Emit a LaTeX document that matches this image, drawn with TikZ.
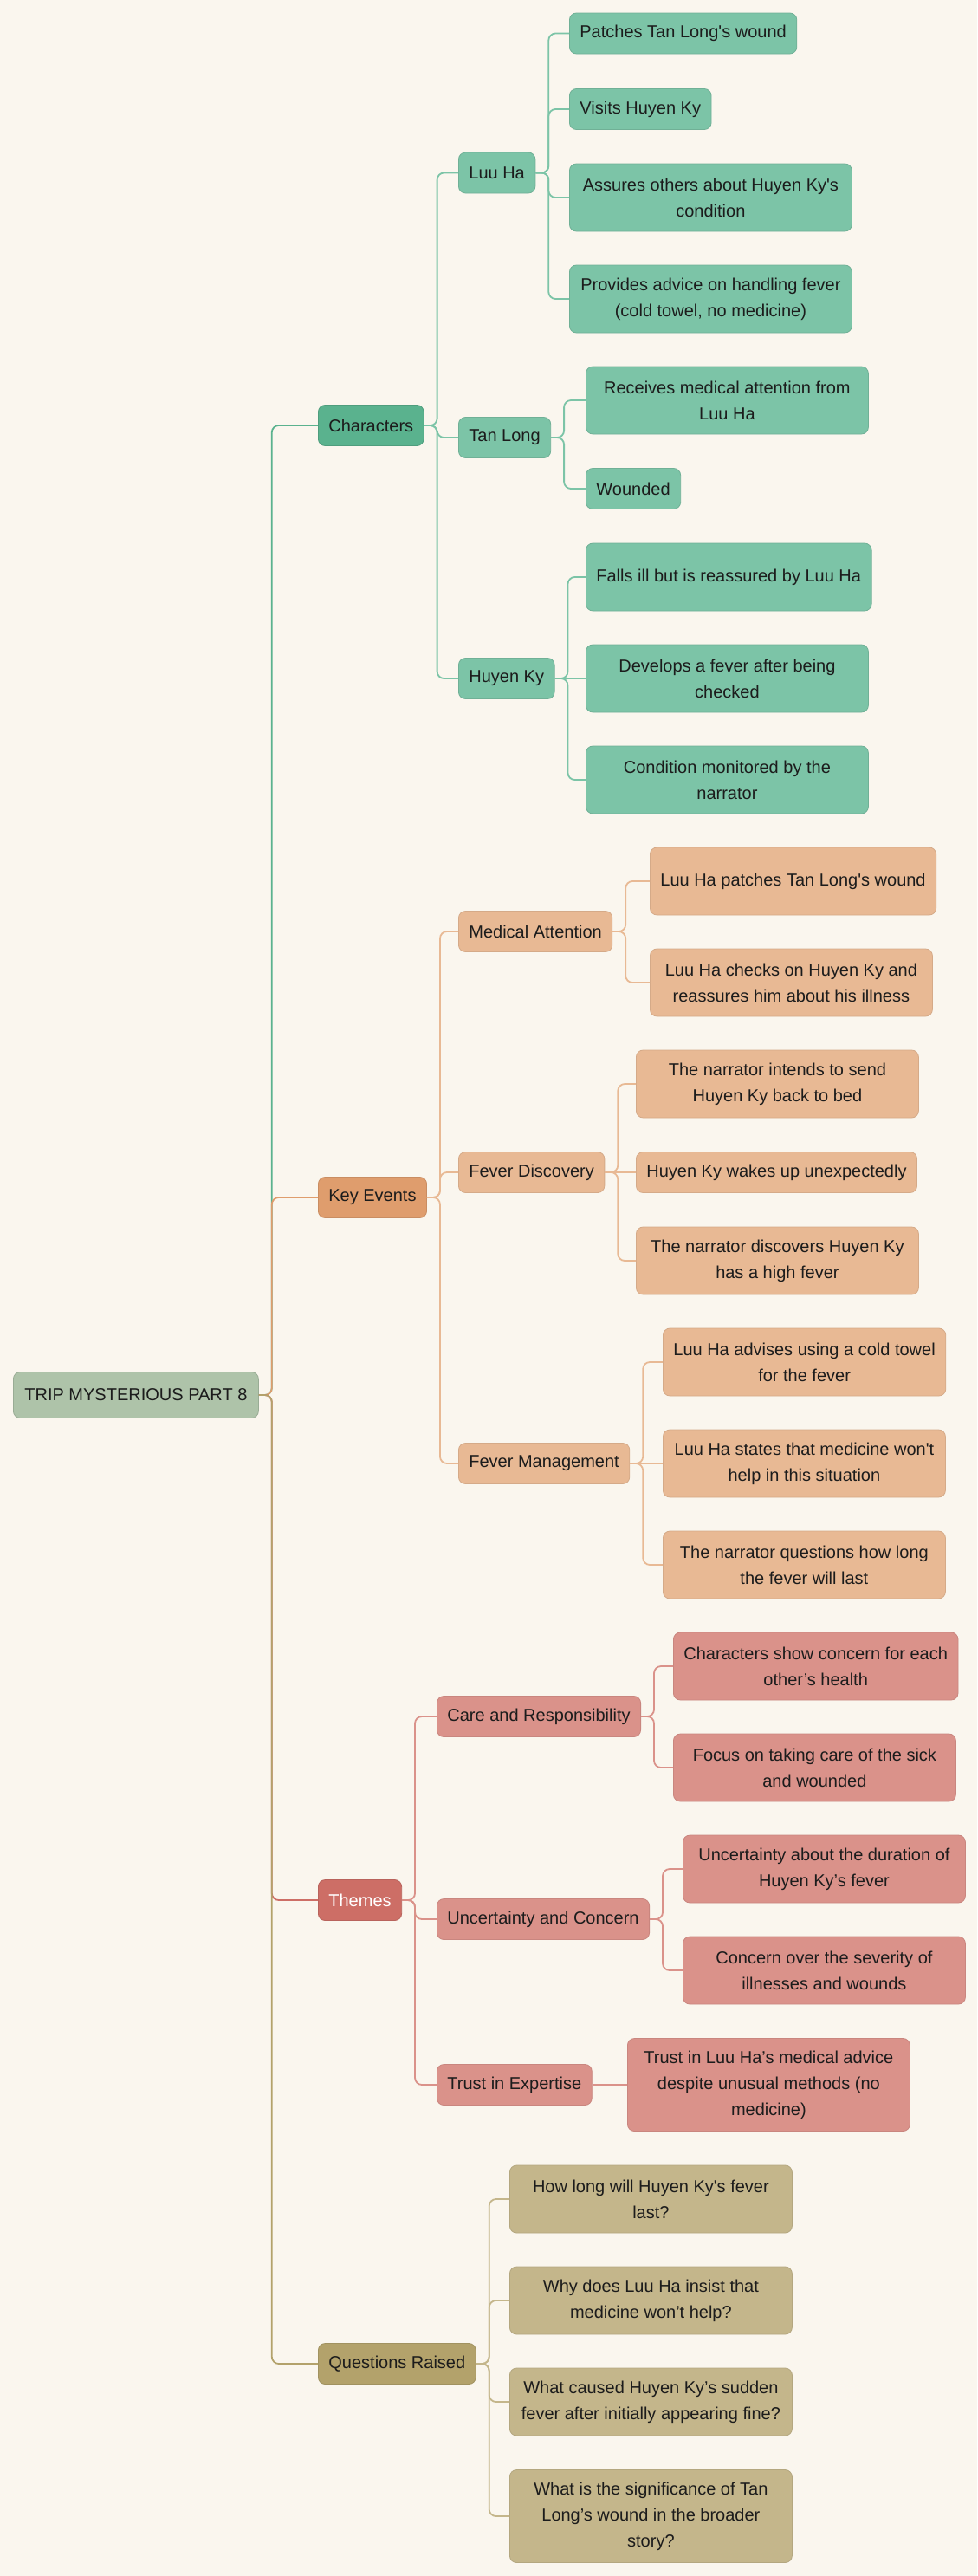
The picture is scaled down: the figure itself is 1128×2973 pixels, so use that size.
\documentclass[tikz,border=0pt]{standalone}
\usepackage{fontspec}
\setmainfont{Liberation Sans}[Ligatures=TeXOff]
\usepackage{xcolor,tikz}

\definecolor{paper}{HTML}{FAF6EE}
\definecolor{ink}{HTML}{1C1C1C}
\definecolor{rootfill}{HTML}{AEC3A9}
\definecolor{greenmain}{HTML}{5AB28E}
\definecolor{greensub}{HTML}{7CC4A7}
\definecolor{orangemain}{HTML}{DF9D6D}
\definecolor{orangesub}{HTML}{E8B994}
\definecolor{redmain}{HTML}{CD6E66}
\definecolor{redsub}{HTML}{DA928A}
\definecolor{goldmain}{HTML}{B3A26B}
\definecolor{goldsub}{HTML}{C4B68B}

\begin{document}
\begin{tikzpicture}[x=0.75pt, y=-0.75pt,
		box/.style={rounded corners=6pt, inner xsep=9pt, inner ysep=3pt, minimum height=35.25pt,
			anchor=west, align=center, text=ink, line width=0.6pt, font=\fontsize{15}{22.5}\selectfont},
		wide/.style={minimum width=244.5pt},
		tall/.style={minimum height=58.5pt},
		taller/.style={minimum height=80.25pt},
		rootbox/.style={box, fill=rootfill, draw=rootfill!88!black, minimum width=212.25pt, minimum height=39.75pt},
		greentop/.style={box, fill=greenmain, draw=greenmain!88!black},
		greenbox/.style={box, fill=greensub, draw=greensub!90!black},
		orangetop/.style={box, fill=orangemain, draw=orangemain!90!black},
		orangebox/.style={box, fill=orangesub, draw=orangesub!92!black},
		redtop/.style={box, fill=redmain, draw=redmain!90!black, text=white},
		redbox/.style={box, fill=redsub, draw=redsub!92!black},
		goldtop/.style={box, fill=goldmain, draw=goldmain!90!black},
		goldbox/.style={box, fill=goldsub, draw=goldsub!92!black},
		link/.style={line width=1.35pt, rounded corners=6pt}]

	\fill[paper] (0, 0) rectangle (1128, 2973);
	\useasboundingbox (0, 0) rectangle (1128, 2973);

	\draw (15, 1610) 	node[rootbox] 	(root) 		{TRIP MYSTERIOUS PART 8};

	\draw (367, 491) 	node[greentop] 	(chars) 	{Characters};
	\draw (529, 199.5) 	node[greenbox] 	(luuha) 	{Luu Ha};
	\draw (529, 505) 	node[greenbox] 	(tanlong) 	{Tan Long};
	\draw (529, 783) 	node[greenbox] 	(huyenky) 	{Huyen Ky};
	\draw (657, 38.5) 	node[greenbox] 	(luuha_a) 	{Patches Tan Long's wound};
	\draw (657, 126) 	node[greenbox] 	(luuha_b) 	{Visits Huyen Ky};
	\draw (657, 228) 	node[greenbox, wide, tall] 	(luuha_c) 	{Assures others about Huyen Ky's\\condition};
	\draw (657, 345) 	node[greenbox, wide, tall] 	(luuha_d) 	{Provides advice on handling fever\\(cold towel, no medicine)};
	\draw (676, 462) 	node[greenbox, wide, tall] 	(tanlong_a) 	{Receives medical attention from\\Luu Ha};
	\draw (676, 564) 	node[greenbox] 	(tanlong_b) 	{Wounded};
	\draw (676, 666) 	node[greenbox, wide, tall] 	(huyenky_a) 	{Falls ill but is reassured by Luu Ha};
	\draw (676, 783) 	node[greenbox, wide, tall] 	(huyenky_b) 	{Develops a fever after being\\checked};
	\draw (676, 900) 	node[greenbox, wide, tall] 	(huyenky_c) 	{Condition monitored by the\\narrator};

	\draw (367, 1382) 	node[orangetop] 	(events) 	{Key Events};
	\draw (529, 1075) 	node[orangebox] 	(medical) 	{Medical Attention};
	\draw (529, 1353) 	node[orangebox] 	(fever) 	{Fever Discovery};
	\draw (529, 1689) 	node[orangebox] 	(manage) 	{Fever Management};
	\draw (750, 1017) 	node[orangebox, wide, tall] 	(medical_a) 	{Luu Ha patches Tan Long's wound};
	\draw (750, 1134) 	node[orangebox, wide, tall] 	(medical_b) 	{Luu Ha checks on Huyen Ky and\\reassures him about his illness};
	\draw (734, 1251) 	node[orangebox, wide, tall] 	(fever_a) 	{The narrator intends to send\\Huyen Ky back to bed};
	\draw (734, 1353) 	node[orangebox] 	(fever_b) 	{Huyen Ky wakes up unexpectedly};
	\draw (734, 1455) 	node[orangebox, wide, tall] 	(fever_c) 	{The narrator discovers Huyen Ky\\has a high fever};
	\draw (765, 1572) 	node[orangebox, wide, tall] 	(manage_a) 	{Luu Ha advises using a cold towel\\for the fever};
	\draw (765, 1689) 	node[orangebox, wide, tall] 	(manage_b) 	{Luu Ha states that medicine won't\\help in this situation};
	\draw (765, 1806) 	node[orangebox, wide, tall] 	(manage_c) 	{The narrator questions how long\\the fever will last};

	\draw (367, 2193) 	node[redtop] 	(themes) 	{Themes};
	\draw (504, 1981) 	node[redbox] 	(care) 		{Care and Responsibility};
	\draw (504, 2215) 	node[redbox] 	(doubt) 	{Uncertainty and Concern};
	\draw (504, 2406) 	node[redbox] 	(trust) 	{Trust in Expertise};
	\draw (777, 1923) 	node[redbox, wide, tall] 	(care_a) 	{Characters show concern for each\\other’s health};
	\draw (777, 2040) 	node[redbox, wide, tall] 	(care_b) 	{Focus on taking care of the sick\\and wounded};
	\draw (788, 2157) 	node[redbox, wide, tall] 	(doubt_a) 	{Uncertainty about the duration of\\Huyen Ky’s fever};
	\draw (788, 2274) 	node[redbox, wide, tall] 	(doubt_b) 	{Concern over the severity of\\illnesses and wounds};
	\draw (724, 2406) 	node[redbox, wide, taller] 	(trust_a) 	{Trust in Luu Ha’s medical advice\\despite unusual methods (no\\medicine)};

	\draw (367, 2728) 	node[goldtop] 	(questions) 	{Questions Raised};
	\draw (588, 2538) 	node[goldbox, wide, tall] 	(questions_a) 	{How long will Huyen Ky's fever\\last?};
	\draw (588, 2655) 	node[goldbox, wide, tall] 	(questions_b) 	{Why does Luu Ha insist that\\medicine won’t help?};
	\draw (588, 2772) 	node[goldbox, wide, tall] 	(questions_c) 	{What caused Huyen Ky’s sudden\\fever after initially appearing fine?};
	\draw (588, 2904) 	node[goldbox, wide, taller] 	(questions_d) 	{What is the significance of Tan\\Long’s wound in the broader\\story?};

	\draw[link, greenmain] (root.east) -- ++(15, 0) |- (chars.west);
	\draw[link, orangemain] (root.east) -- ++(15, 0) |- (events.west);
	\draw[link, redmain] (root.east) -- ++(15, 0) |- (themes.west);
	\draw[link, goldmain] (root.east) -- ++(15, 0) |- (questions.west);

	\draw[link, greensub] (chars.east) -- ++(15, 0) |- (luuha.west);
	\draw[link, greensub] (chars.east) -- ++(15, 0) |- (tanlong.west);
	\draw[link, greensub] (chars.east) -- ++(15, 0) |- (huyenky.west);
	\draw[link, greensub] (luuha.east) -- ++(15, 0) |- (luuha_a.west);
	\draw[link, greensub] (luuha.east) -- ++(15, 0) |- (luuha_b.west);
	\draw[link, greensub] (luuha.east) -- ++(15, 0) |- (luuha_c.west);
	\draw[link, greensub] (luuha.east) -- ++(15, 0) |- (luuha_d.west);
	\draw[link, greensub] (tanlong.east) -- ++(15, 0) |- (tanlong_a.west);
	\draw[link, greensub] (tanlong.east) -- ++(15, 0) |- (tanlong_b.west);
	\draw[link, greensub] (huyenky.east) -- ++(15, 0) |- (huyenky_a.west);
	\draw[link, greensub] (huyenky.east) -- (huyenky_b.west);
	\draw[link, greensub] (huyenky.east) -- ++(15, 0) |- (huyenky_c.west);

	\draw[link, orangesub] (events.east) -- ++(15, 0) |- (medical.west);
	\draw[link, orangesub] (events.east) -- ++(15, 0) |- (fever.west);
	\draw[link, orangesub] (events.east) -- ++(15, 0) |- (manage.west);
	\draw[link, orangesub] (medical.east) -- ++(15, 0) |- (medical_a.west);
	\draw[link, orangesub] (medical.east) -- ++(15, 0) |- (medical_b.west);
	\draw[link, orangesub] (fever.east) -- ++(15, 0) |- (fever_a.west);
	\draw[link, orangesub] (fever.east) -- (fever_b.west);
	\draw[link, orangesub] (fever.east) -- ++(15, 0) |- (fever_c.west);
	\draw[link, orangesub] (manage.east) -- ++(15, 0) |- (manage_a.west);
	\draw[link, orangesub] (manage.east) -- (manage_b.west);
	\draw[link, orangesub] (manage.east) -- ++(15, 0) |- (manage_c.west);

	\draw[link, redsub] (themes.east) -- ++(15, 0) |- (care.west);
	\draw[link, redsub] (themes.east) -- ++(15, 0) |- (doubt.west);
	\draw[link, redsub] (themes.east) -- ++(15, 0) |- (trust.west);
	\draw[link, redsub] (care.east) -- ++(15, 0) |- (care_a.west);
	\draw[link, redsub] (care.east) -- ++(15, 0) |- (care_b.west);
	\draw[link, redsub] (doubt.east) -- ++(15, 0) |- (doubt_a.west);
	\draw[link, redsub] (doubt.east) -- ++(15, 0) |- (doubt_b.west);
	\draw[link, redsub] (trust.east) -- (trust_a.west);

	\draw[link, goldsub] (questions.east) -- ++(15, 0) |- (questions_a.west);
	\draw[link, goldsub] (questions.east) -- ++(15, 0) |- (questions_b.west);
	\draw[link, goldsub] (questions.east) -- ++(15, 0) |- (questions_c.west);
	\draw[link, goldsub] (questions.east) -- ++(15, 0) |- (questions_d.west);
\end{tikzpicture}
\end{document}
